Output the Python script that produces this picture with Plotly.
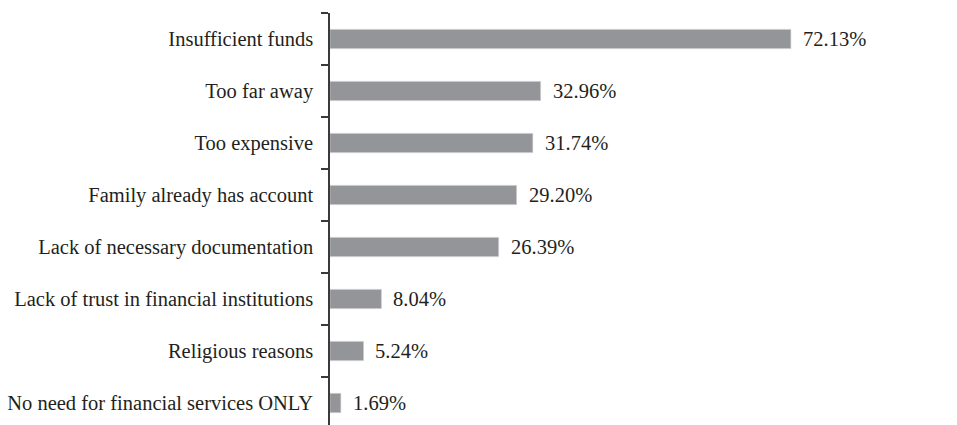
import plotly.graph_objects as go

categories = [
    "Insufficient funds",
    "Too far away",
    "Too expensive",
    "Family already has account",
    "Lack of necessary documentation",
    "Lack of trust in financial institutions",
    "Religious reasons",
    "No need for financial services ONLY",
]
values = [72.13, 32.96, 31.74, 29.20, 26.39, 8.04, 5.24, 1.69]
labels = ["72.13%", "32.96%", "31.74%", "29.20%", "26.39%", "8.04%", "5.24%", "1.69%"]

cats_r = categories[::-1]
vals_r = values[::-1]
labs_r = labels[::-1]

font_family = "Liberation Serif, DejaVu Serif, serif"
text_color = "#231f20"
fs = 20.5

fig = go.Figure()
fig.add_trace(go.Bar(
    y=cats_r, x=vals_r, orientation="h",
    marker=dict(color="#939598", line=dict(color="#c9cacc", width=0.6)),
    width=0.37,
    hoverinfo="skip",
))

for c, v, l in zip(cats_r, vals_r, labs_r):
    fig.add_annotation(x=v, y=c, text=l, showarrow=False, xanchor="left",
                       xshift=10, font=dict(family=font_family, size=fs, color=text_color))

fig.update_layout(
    width=957, height=425,
    margin=dict(l=330, r=52, t=13, b=0, autoexpand=False),
    paper_bgcolor="white", plot_bgcolor="white",
    showlegend=False,
    font=dict(family=font_family, size=fs, color=text_color),
    xaxis=dict(range=[0, 90], visible=False, fixedrange=True),
    yaxis=dict(
        type="category",
        range=[-0.423, 7.5],
        tickson="boundaries",
        ticks="outside", ticklen=7, tickwidth=1.5, tickcolor="#3a3a3a",
        showline=True, linecolor="#3a3a3a", linewidth=1.5,
        showgrid=False, zeroline=False,
        ticklabelstandoff=11,
        automargin=False,
        tickfont=dict(family=font_family, size=fs, color=text_color),
        fixedrange=True,
    ),
)

fig.write_html(
    "out.html",
    config={"displayModeBar": False},
    post_script="document.body.style.margin='0';document.body.style.overflow='hidden';",
)
